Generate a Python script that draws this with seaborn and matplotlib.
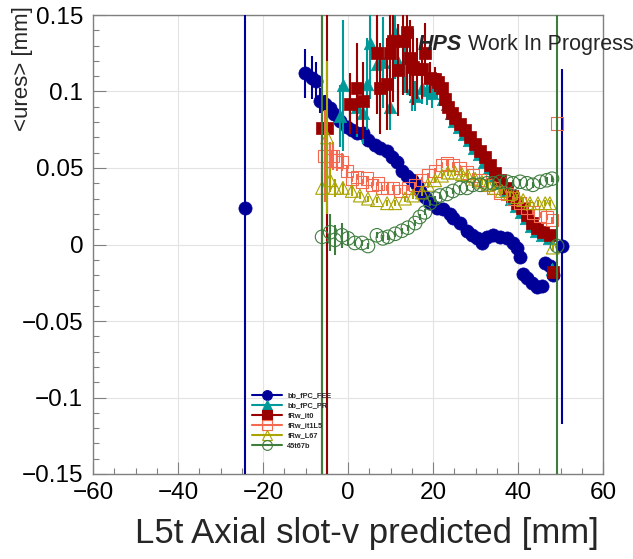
import matplotlib
matplotlib.use("Agg")
import matplotlib.pyplot as plt
import matplotlib.ticker as mticker
from matplotlib.lines import Line2D
import pandas as pd
import seaborn as sns

# ---- profile data: mean residual per predicted-v bin ----
fee_x = [-24.2, -10.1, -8.5, -7.5, -6.6, -5.4, -4.2, -3.3, -1.9, -0.2,
         0.9, 2.1, 3.5, 4.7, 6.4, 7.5, 9.2, 10.4, 11.5, 12.7,
         13.9, 15.1, 16.2, 16.9, 18.1, 19.3, 20.9, 22.4, 24.0, 24.7,
         26.4, 28.0, 29.2, 30.4, 31.5, 32.7, 34.1, 35.8, 37.4, 38.8,
         39.8, 40.5, 41.2, 42.1, 43.3, 44.5, 45.6, 46.4, 47.5, 48.2,
         50.3]
fee_y = [0.024, 0.112, 0.109, 0.107, 0.094, 0.092, 0.089, 0.085, 0.081, 0.077,
         0.075, 0.073, 0.073, 0.068, 0.065, 0.063, 0.061, 0.057, 0.054, 0.048,
         0.045, 0.042, 0.039, 0.035, 0.031, 0.027, 0.024, 0.023, 0.020, 0.017,
         0.014, 0.009, 0.006, 0.004, 0.001, 0.005, 0.006, 0.005, 0.004, 0.001,
         -0.002, -0.008, -0.019, -0.022, -0.025, -0.028, -0.027, -0.012, -0.014, -0.020,
         -0.001]
fee_err = [0.2, 0.016, 0.014, 0.012, 0.008, 0.006, 0.005, 0.004, 0.004, 0.003,
           0.003, 0.003, 0.003, 0.003, 0.003, 0.003, 0.003, 0.003, 0.003, 0.003,
           0.003, 0.003, 0.003, 0.003, 0.003, 0.003, 0.003, 0.003, 0.003, 0.003,
           0.003, 0.003, 0.003, 0.003, 0.003, 0.003, 0.003, 0.003, 0.003, 0.003,
           0.003, 0.003, 0.003, 0.003, 0.003, 0.003, 0.003, 0.003, 0.003, 0.003,
           0.116]

pr_x = [-1.9, -1.2, 2.1, 3.5, 4.5, 5.2, 6.8, 8.2, 9.9, 11.1,
        11.8, 13.4, 15.1, 15.8, 17.4, 18.6, 19.8, 20.9, 22.4, 23.2,
        24.2, 25.0, 26.1, 27.3, 28.4, 29.6, 30.8, 31.9, 33.1, 34.3,
        35.5, 37.1, 38.3, 39.5, 40.6, 41.8, 43.0, 44.2, 45.6, 47.2,
        48.0]
pr_y = [0.084, 0.104, 0.090, 0.086, 0.105, 0.132, 0.118, 0.119, 0.090, 0.138,
        0.119, 0.119, 0.102, 0.097, 0.102, 0.101, 0.099, 0.103, 0.095, 0.092,
        0.086, 0.081, 0.077, 0.072, 0.068, 0.063, 0.059, 0.054, 0.050, 0.045,
        0.040, 0.035, 0.030, 0.025, 0.021, 0.017, 0.012, 0.009, 0.006, 0.004,
        -0.016]
pr_err = [0.02, 0.043, 0.02, 0.02, 0.03, 0.037, 0.03, 0.03, 0.015, 0.03,
          0.025, 0.02, 0.015, 0.01, 0.01, 0.01, 0.01, 0.008, 0.006, 0.005,
          0.003, 0.003, 0.003, 0.003, 0.003, 0.003, 0.003, 0.003, 0.003, 0.003,
          0.003, 0.003, 0.003, 0.003, 0.003, 0.003, 0.003, 0.003, 0.003, 0.003,
          0.003]

it0_x = [-6.1, -4.9, 0.5, 2.1, 3.5, 6.8, 7.5, 9.2, 9.9, 10.6,
         11.8, 12.9, 13.9, 14.6, 15.3, 16.2, 17.4, 18.1, 19.3, 20.5,
         21.2, 22.1, 22.8, 23.5, 24.5, 25.2, 26.4, 27.5, 28.7, 29.9,
         31.1, 32.2, 33.4, 34.6, 35.8, 37.4, 38.6, 39.8, 40.9, 42.1,
         43.3, 44.5, 45.9, 47.5, 48.2]
it0_y = [0.076, 0.076, 0.092, 0.102, 0.094, 0.125, 0.102, 0.105, 0.125, 0.133,
         0.114, 0.133, 0.139, 0.122, 0.116, 0.115, 0.115, 0.125, 0.109, 0.108,
         0.106, 0.102, 0.095, 0.090, 0.086, 0.083, 0.079, 0.075, 0.070, 0.066,
         0.061, 0.057, 0.052, 0.047, 0.042, 0.037, 0.032, 0.027, 0.024, 0.019,
         0.014, 0.011, 0.008, 0.006, -0.018]
it0_err = [0.4, 0.4, 0.02, 0.03, 0.025, 0.04, 0.03, 0.03, 0.04, 0.04,
           0.03, 0.035, 0.04, 0.025, 0.025, 0.02, 0.02, 0.02, 0.01, 0.008,
           0.006, 0.005, 0.003, 0.003, 0.003, 0.003, 0.003, 0.003, 0.003, 0.003,
           0.003, 0.003, 0.003, 0.003, 0.003, 0.003, 0.003, 0.003, 0.003, 0.003,
           0.003, 0.003, 0.003, 0.003, 0.003]

it1_x = [-5.5, -4.2, -3.5, -2.6, -1.4, -0.2, 0.9, 2.1, 3.3, 4.5,
         5.6, 7.1, 8.0, 9.2, 10.6, 12.2, 14.1, 15.8, 17.4, 18.8,
         20.5, 22.1, 23.3, 24.7, 26.4, 28.0, 29.4, 31.1, 32.7, 34.1,
         35.8, 37.4, 38.8, 40.5, 42.1, 43.5, 45.2, 46.8, 48.0, 49.2]
it1_y = [0.058, 0.055, 0.058, 0.055, 0.054, 0.048, 0.043, 0.044, 0.041, 0.043,
         0.039, 0.040, 0.037, 0.037, 0.037, 0.035, 0.037, 0.039, 0.042, 0.045,
         0.048, 0.052, 0.053, 0.052, 0.050, 0.047, 0.045, 0.042, 0.039, 0.037,
         0.034, 0.033, 0.030, 0.027, 0.024, 0.021, 0.019, 0.018, 0.016, 0.079]
it1_err = [0.03, 0.012, 0.009, 0.007, 0.006, 0.004, 0.002, 0.002, 0.002, 0.002,
           0.002, 0.002, 0.002, 0.002, 0.002, 0.002, 0.002, 0.002, 0.002, 0.002,
           0.002, 0.002, 0.002, 0.002, 0.002, 0.002, 0.002, 0.002, 0.002, 0.002,
           0.002, 0.002, 0.002, 0.002, 0.002, 0.002, 0.002, 0.002, 0.002, 0.002]

l67_x = [-6.1, -4.9, -4.2, -3.1, -1.2, 0.9, 2.8, 4.7, 6.8, 9.2,
         11.1, 13.4, 15.3, 17.4, 18.8, 20.5, 22.1, 23.5, 25.2, 26.8,
         28.2, 29.9, 31.5, 32.9, 34.6, 36.2, 38.1, 39.8, 41.2, 42.8,
         44.7, 46.4, 47.5, 48.2]
l67_y = [0.037, 0.070, 0.042, 0.037, 0.037, 0.035, 0.032, 0.030, 0.029, 0.027,
         0.027, 0.030, 0.032, 0.034, 0.039, 0.042, 0.045, 0.047, 0.047, 0.046,
         0.045, 0.043, 0.041, 0.039, 0.037, 0.035, 0.033, 0.031, 0.029, 0.027,
         0.027, 0.027, 0.027, -0.002]
l67_err = [0.01, 0.05, 0.008, 0.006, 0.004, 0.003, 0.002, 0.002, 0.002, 0.002,
           0.002, 0.002, 0.002, 0.002, 0.002, 0.002, 0.002, 0.002, 0.002, 0.002,
           0.002, 0.002, 0.002, 0.002, 0.002, 0.002, 0.002, 0.002, 0.002, 0.002,
           0.002, 0.002, 0.002, 0.002]

t67_x = [-6.1, -4.2, -3.1, -1.4, 0.0, 1.6, 3.3, 4.7, 6.8, 8.2,
         9.4, 11.1, 12.7, 14.1, 15.8, 16.9, 18.1, 19.3, 20.5, 21.6,
         23.3, 24.7, 26.4, 28.0, 29.4, 31.1, 32.7, 34.1, 35.8, 37.4,
         38.8, 40.5, 42.1, 43.5, 45.2, 46.8, 48.0, 49.2]
t67_y = [0.005, 0.008, 0.003, 0.006, 0.004, 0.001, 0.001, -0.001, 0.006, 0.004,
         0.005, 0.007, 0.009, 0.011, 0.014, 0.018, 0.021, 0.027, 0.030, 0.032,
         0.033, 0.035, 0.037, 0.037, 0.039, 0.039, 0.040, 0.040, 0.041, 0.041,
         0.040, 0.041, 0.040, 0.039, 0.041, 0.042, 0.043, -0.001]
t67_err = [0.4, 0.012, 0.01, 0.008, 0.005, 0.002, 0.002, 0.002, 0.002, 0.002,
           0.002, 0.002, 0.002, 0.002, 0.002, 0.002, 0.002, 0.002, 0.002, 0.002,
           0.002, 0.002, 0.002, 0.002, 0.002, 0.002, 0.002, 0.002, 0.002, 0.002,
           0.002, 0.002, 0.002, 0.002, 0.002, 0.002, 0.002, 0.4]

labels = ["bb_fPC_FEE", "bb_fPC_PR", "fRw_it0", "fRw_it1L5", "fRw_L67", "45t67b"]

# (x, y, err, colour, marker, filled, marker area)
series = [
    (fee_x, fee_y, fee_err, "#000099", "o", True, 90),
    (pr_x, pr_y, pr_err, "#009999", "^", True, 80),
    (it0_x, it0_y, it0_err, "#990000", "s", True, 75),
    (it1_x, it1_y, it1_err, "#f46a50", "s", False, 80),
    (l67_x, l67_y, l67_err, "#aaa400", "^", False, 85),
    (t67_x, t67_y, t67_err, "#3f7d3f", "o", False, 95),
]

sns.set_theme(style="whitegrid")
plt.rcParams["font.family"] = ["Liberation Sans", "DejaVu Sans"]
plt.rcParams["axes.unicode_minus"] = True

fig = plt.figure(figsize=(6.33, 5.59), dpi=100)
ax = fig.add_axes([93 / 633, 1 - 474 / 559, 510 / 633, 459 / 559])
ax.set_facecolor("white")

handles = []
for i, (xs, ys, es, col, mk, filled, area) in enumerate(series):
    z = 3 + 2 * i
    ax.errorbar(xs, ys, yerr=es, fmt="none", ecolor=col, elinewidth=1.5,
                capsize=0, zorder=z)
    df = pd.DataFrame({"x": xs, "y": ys})
    if filled:
        sns.scatterplot(data=df, x="x", y="y", ax=ax, marker=mk, s=area,
                        color=col, edgecolor=col, linewidth=0.5,
                        legend=False, zorder=z + 1)
    else:
        sns.scatterplot(data=df, x="x", y="y", ax=ax, marker=mk, s=area,
                        color=col, facecolor="none", edgecolor=col,
                        linewidth=0.8, legend=False, zorder=z + 1)
    handles.append(Line2D([0], [0], color=col, lw=1.5, marker=mk, markersize=7,
                          markerfacecolor=col if filled else "none",
                          markeredgecolor=col, markeredgewidth=0.8))

ax.set_xlim(-60, 60)
ax.set_ylim(-0.15, 0.15)
ax.xaxis.set_major_locator(mticker.MultipleLocator(20))
ax.xaxis.set_minor_locator(mticker.MultipleLocator(5))
ax.yaxis.set_major_locator(mticker.MultipleLocator(0.05))
ax.yaxis.set_minor_locator(mticker.MultipleLocator(0.01))


def fmt(v, _pos):
    if abs(v) < 1e-9:
        return "0"
    return ("%g" % v).replace("-", "\u2212")


ax.yaxis.set_major_formatter(mticker.FuncFormatter(fmt))
ax.xaxis.set_major_formatter(mticker.FuncFormatter(fmt))

ax.grid(True, which="major", color="#e3e3e3", linewidth=0.8)
ax.grid(False, which="minor")
ax.set_axisbelow(True)
for sp in ax.spines.values():
    sp.set_color("#808080")
    sp.set_linewidth(1.0)
ax.tick_params(which="both", direction="in", left=True, bottom=True,
               top=False, right=False, color="#808080", labelcolor="black",
               width=0.8)
ax.tick_params(which="major", length=9, labelsize=17.5)
ax.tick_params(axis="x", which="major", pad=6)
ax.tick_params(axis="y", which="major", pad=7)
ax.tick_params(which="minor", length=4.5)

ax.set_xlabel("L5t Axial slot-v predicted [mm]", fontsize=25, loc="right")
ax.xaxis.set_label_coords((599 - 93) / 510, (474 - 517) / 459)
ax.set_ylabel("<ures> [mm]", fontsize=16, loc="top")
ax.yaxis.set_label_coords((33 - 93) / 510, (474 - 6) / 459)

ax.text((418 - 93) / 510, (474 - 50) / 459, "HPS", transform=ax.transAxes,
        fontsize=15.5, fontweight="bold", fontstyle="italic", va="baseline",
        clip_on=False, zorder=20)
ax.text((468 - 93) / 510, (474 - 50) / 459, "Work In Progress",
        transform=ax.transAxes, fontsize=15.5, va="baseline", clip_on=False,
        zorder=20)

fig.legend(handles, labels, loc="upper left",
           bbox_to_anchor=(252 / 633, 1 - 392 / 559), frameon=False,
           prop={"size": 5.3, "weight": "bold"}, handlelength=4.1,
           handletextpad=0.7, labelspacing=0.4, borderpad=0, borderaxespad=0)

fig.savefig("out.png", dpi=100)
